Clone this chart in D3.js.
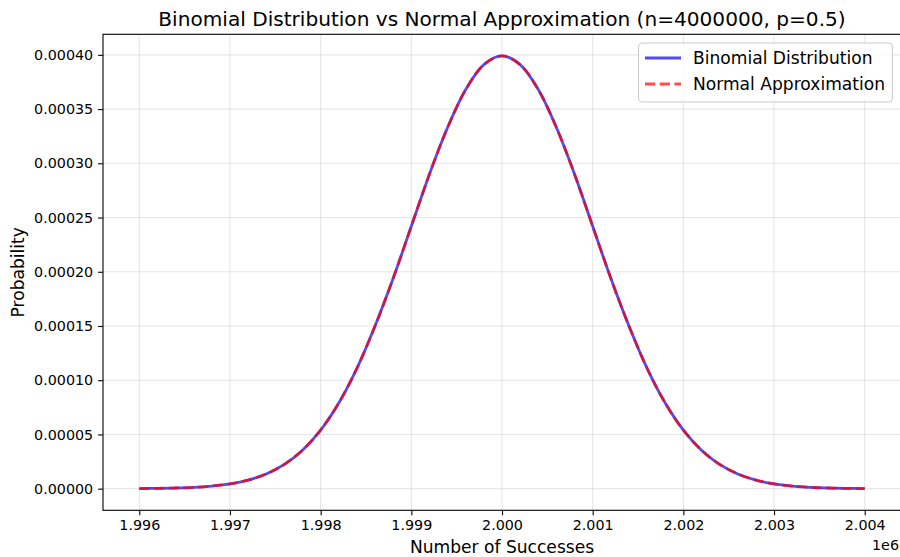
<html>
<head>
  <script src="https://d3js.org/d3.v7.min.js"></script>
  <style>
    body { margin: 0; background: #fff; }
    text { font-family: "DejaVu Sans", sans-serif; fill: #000; }
  </style>
</head>
<body>
<svg id="chart" width="900" height="557"></svg>
<script>
  // Number of successes (x values)
  const successes = [
    1996000, 1996200, 1996400, 1996600, 1996800, 1997000, 1997200, 1997400, 1997600, 1997800,
    1998000, 1998200, 1998400, 1998600, 1998800, 1999000, 1999200, 1999400, 1999600, 1999800,
    2000000,
    2000200, 2000400, 2000600, 2000800, 2001000, 2001200, 2001400, 2001600, 2001800, 2002000,
    2002200, 2002400, 2002600, 2002800, 2003000, 2003200, 2003400, 2003600, 2003800, 2004000
  ];
  const binomialProb = [
    0.0000001, 0.0000003, 0.0000006, 0.0000012, 0.0000024, 0.0000044, 0.0000079, 0.0000136, 0.0000224, 0.0000355,
    0.0000540, 0.0000790, 0.000111, 0.000150, 0.000194, 0.000242, 0.000290, 0.000333, 0.000368, 0.000391,
    0.000399,
    0.000391, 0.000368, 0.000333, 0.000290, 0.000242, 0.000194, 0.000150, 0.000111, 0.0000790, 0.0000540,
    0.0000355, 0.0000224, 0.0000136, 0.0000079, 0.0000044, 0.0000024, 0.0000012, 0.0000006, 0.0000003, 0.0000001
  ];
  const normalProb = [
    0.0000001, 0.0000003, 0.0000006, 0.0000012, 0.0000024, 0.0000044, 0.0000079, 0.0000136, 0.0000224, 0.0000355,
    0.0000540, 0.0000790, 0.000111, 0.000150, 0.000194, 0.000242, 0.000290, 0.000333, 0.000368, 0.000391,
    0.000399,
    0.000391, 0.000368, 0.000333, 0.000290, 0.000242, 0.000194, 0.000150, 0.000111, 0.0000790, 0.0000540,
    0.0000355, 0.0000224, 0.0000136, 0.0000079, 0.0000044, 0.0000024, 0.0000012, 0.0000006, 0.0000003, 0.0000001
  ];
  const xTicks = [1996000, 1997000, 1998000, 1999000, 2000000, 2001000, 2002000, 2003000, 2004000];
  const xTickLabels = ["1.996", "1.997", "1.998", "1.999", "2.000", "2.001", "2.002", "2.003", "2.004"];
  const yTicks = [0, 0.00005, 0.0001, 0.00015, 0.0002, 0.00025, 0.0003, 0.00035, 0.0004];
  const yTickLabels = ["0.00000", "0.00005", "0.00010", "0.00015", "0.00020", "0.00025", "0.00030", "0.00035", "0.00040"];

  const svg = d3.select("#chart");
  const plotL = 103, plotR = 901, plotT = 34.3, plotB = 510.3;

  // matplotlib-like 5% margins
  const xMin = d3.min(successes), xMax = d3.max(successes);
  const yMax = d3.max(binomialProb);
  const x = d3.scaleLinear()
    .domain([xMin - (xMax - xMin) * 0.05, xMax + (xMax - xMin) * 0.05])
    .range([plotL, plotR]);
  const y = d3.scaleLinear()
    .domain([-yMax * 0.05, yMax * 1.05])
    .range([plotB, plotT]);

  // Grid
  const grid = svg.append("g");
  grid.selectAll(".vg").data(xTicks).join("line")
    .attr("x1", d => x(d)).attr("x2", d => x(d))
    .attr("y1", plotT).attr("y2", plotB)
    .attr("stroke", "#b0b0b0").attr("stroke-opacity", 0.3).attr("stroke-width", 1.1);
  grid.selectAll(".hg").data(yTicks).join("line")
    .attr("x1", plotL).attr("x2", plotR)
    .attr("y1", d => y(d)).attr("y2", d => y(d))
    .attr("stroke", "#b0b0b0").attr("stroke-opacity", 0.3).attr("stroke-width", 1.1);

  // Lines
  const line = vals => d3.line()
    .x((d, i) => x(successes[i]))
    .y(d => y(d))
    .curve(d3.curveCatmullRom)(vals);

  svg.append("path").attr("d", line(binomialProb))
    .attr("fill", "none").attr("stroke", "rgb(0,0,255)").attr("stroke-opacity", 0.7)
    .attr("stroke-width", 2.78);
  svg.append("path").attr("d", line(normalProb))
    .attr("fill", "none").attr("stroke", "rgb(255,0,0)").attr("stroke-opacity", 0.7)
    .attr("stroke-width", 2.78).attr("stroke-dasharray", "10.3,4.4");

  // Axes
  const xAxis = svg.append("g").attr("transform", `translate(0,${plotB})`)
    .call(d3.axisBottom(x).tickValues(xTicks).tickFormat((d, i) => xTickLabels[i])
      .tickSize(4.9).tickPadding(4.9).tickSizeOuter(0));
  const yAxis = svg.append("g").attr("transform", `translate(${plotL},0)`)
    .call(d3.axisLeft(y).tickValues(yTicks).tickFormat((d, i) => yTickLabels[i])
      .tickSize(4.9).tickPadding(4.9).tickSizeOuter(0));
  [xAxis, yAxis].forEach(a => {
    a.select(".domain").remove();
    a.selectAll("line").attr("stroke", "#000").attr("stroke-width", 1.1);
    a.selectAll("text").attr("font-size", 14.3).attr("font-family", "DejaVu Sans").attr("fill", "#000");
  });

  // Spines
  svg.append("rect").attr("x", plotL).attr("y", plotT)
    .attr("width", plotR - plotL).attr("height", plotB - plotT)
    .attr("fill", "none").attr("stroke", "#000").attr("stroke-width", 1.1);

  // Title and labels
  svg.append("text").attr("x", (plotL + plotR) / 2).attr("y", 26)
    .attr("text-anchor", "middle").attr("font-size", 20.1)
    .text("Binomial Distribution vs Normal Approximation (n=4000000, p=0.5)");
  svg.append("text").attr("x", (plotL + plotR) / 2).attr("y", 553)
    .attr("text-anchor", "middle").attr("font-size", 17.1)
    .text("Number of Successes");
  svg.append("text").attr("transform", `translate(24,${(plotT + plotB) / 2}) rotate(-90)`)
    .attr("text-anchor", "middle").attr("font-size", 17.1)
    .text("Probability");
  svg.append("text").attr("x", 899).attr("y", 550)
    .attr("text-anchor", "end").attr("font-size", 14.3)
    .text("1e6");

  // Legend
  const lg = svg.append("g");
  lg.append("rect").attr("x", 638.5).attr("y", 43).attr("width", 254).attr("height", 59)
    .attr("rx", 4).attr("fill", "#fff").attr("fill-opacity", 0.8)
    .attr("stroke", "#cccccc").attr("stroke-width", 1.1);
  const entries = [
    {label: "Binomial Distribution", color: "rgb(0,0,255)", dash: null},
    {label: "Normal Approximation", color: "rgb(255,0,0)", dash: "10.3,4.4"}
  ];
  entries.forEach((e, i) => {
    const yy = 58 + i * 26;
    lg.append("line").attr("x1", 645).attr("x2", 681).attr("y1", yy).attr("y2", yy)
      .attr("stroke", e.color).attr("stroke-opacity", 0.7).attr("stroke-width", 2.78)
      .attr("stroke-dasharray", e.dash);
    lg.append("text").attr("x", 693).attr("y", yy + 6)
      .attr("font-size", 17.1).text(e.label);
  });
</script>
</body>
</html>
